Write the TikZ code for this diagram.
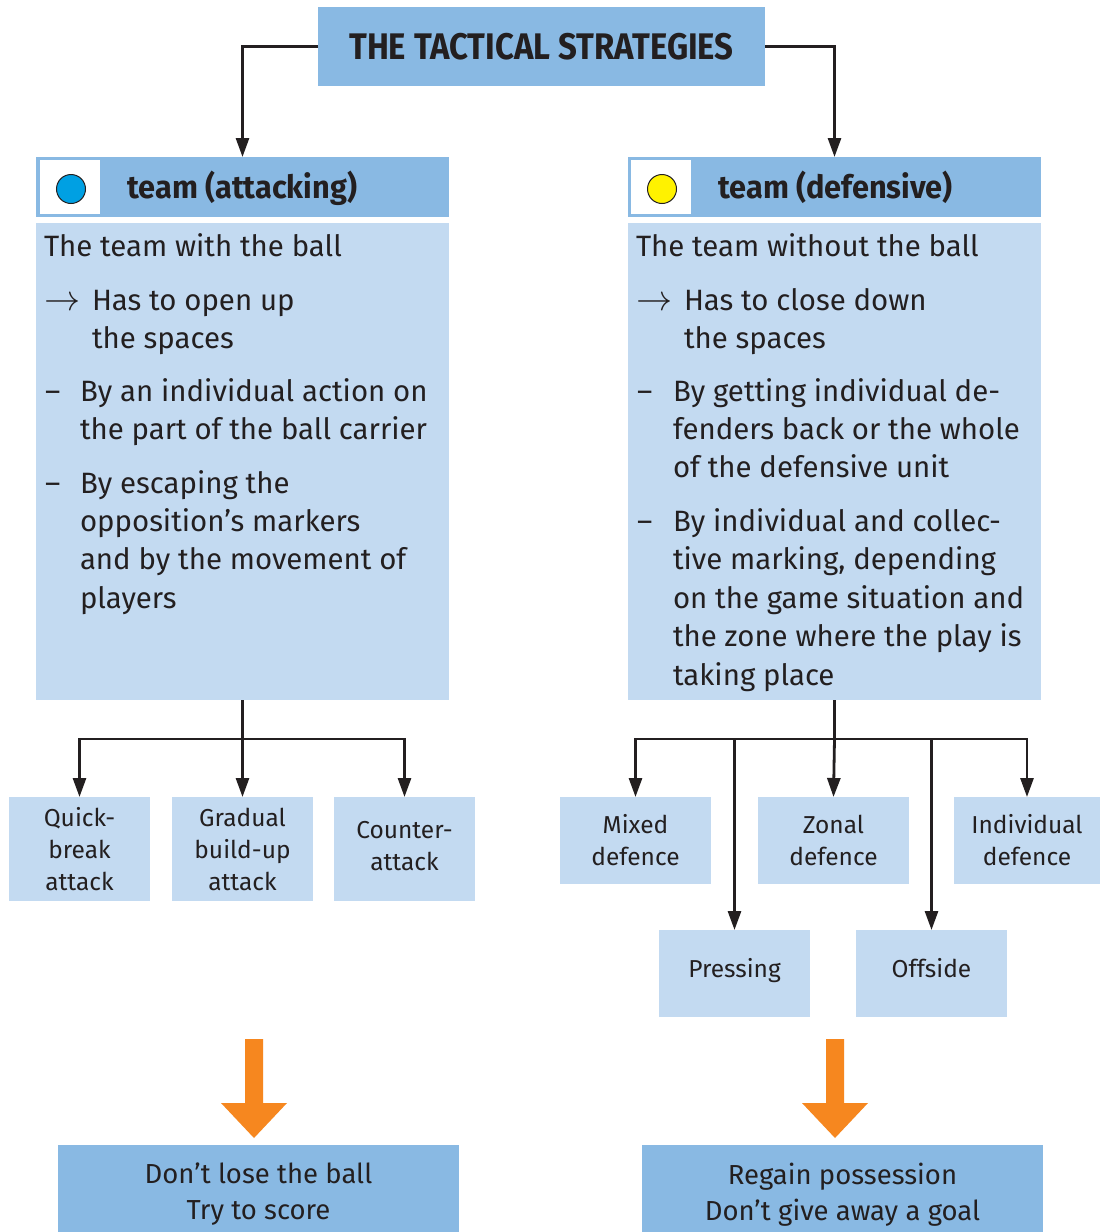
\documentclass[tikz,border=0pt]{standalone}
\usepackage{fontspec}
\setmainfont{Fira Sans}
\usetikzlibrary{arrows.meta}
\definecolor{midblue}{HTML}{89B9E3}
\definecolor{lightblue}{HTML}{C3DAF1}
\definecolor{ink}{HTML}{231F20}
\definecolor{arrorange}{HTML}{F6871F}
\definecolor{ballblue}{HTML}{00A0E3}
\definecolor{ballyellow}{HTML}{FFF200}
\begin{document}
\begin{tikzpicture}[x=1pt,y=-1pt,
  boxbase/.style={draw=none, inner sep=0pt, outer sep=0pt, anchor=north west, align=center, text=ink},
  midbox/.style={boxbase, fill=midblue},
  lightbox/.style={boxbase, fill=lightblue},
  bodytxt/.style={font=\fontsize{29.4}{38}\selectfont, text=ink, anchor=base west, inner sep=0pt, outer sep=0pt},
  smalltxt/.style={font=\fontsize{24.5}{32}\selectfont},
  lbltxt/.style={font=\fontsize{24.5}{32}\selectfont, text=ink, align=center, inner sep=0pt},
  restxt/.style={font=\fontsize{27.5}{36}\selectfont, text=ink, align=center, inner sep=0pt},
  headtxt/.style={font=\fontsize{32}{36}\selectfont\bfseries, text=ink, anchor=base west, inner sep=0pt},
  conn/.style={draw=ink, line width=2.8pt, -{Triangle[length=19pt,width=13pt]}},
  plain/.style={draw=ink, line width=2.8pt},
  ball/.style={circle, draw=ink, line width=1pt, minimum size=29pt, inner sep=0pt}
]
\useasboundingbox[fill=white] (0,0) rectangle (1100,1232);

% title
\node[midbox, minimum width=447pt, minimum height=79pt] (title) at (318,7)
  {\fontsize{37}{40}\selectfont\bfseries\scalebox{0.89}[1]{THE TACTICAL STRATEGIES}};

% headers
\node[midbox, minimum width=413pt, minimum height=60pt] (lhead) at (36,157) {};
\node[midbox, minimum width=413pt, minimum height=60pt] (rhead) at (628,157) {};
\node[fill=white, inner sep=0pt, minimum width=60pt, minimum height=54pt] (lsq) at (70,187) {};
\node[fill=white, inner sep=0pt, minimum width=60pt, minimum height=54pt] (rsq) at (661,187) {};
\node[ball, fill=ballblue] (lball) at (71,189) {};
\node[ball, fill=ballyellow] (rball) at (662,189) {};
\node[headtxt] (lht) at (127,198) {\scalebox{0.96}[1]{team (attacking)}};
\node[headtxt] (rht) at (718,198) {\scalebox{0.96}[1]{team (defensive)}};

% bodies
\node[lightbox, minimum width=413pt, minimum height=477pt] (lbody) at (36,223) {};
\node[lightbox, minimum width=413pt, minimum height=477pt] (rbody) at (628,223) {};

% left body text
\node[bodytxt] (la1) at (44,256) {The team with the ball};
\node[bodytxt] (la2a) at (44,310) {\scalebox{1.45}{$\rightarrow$}};
\node[bodytxt] (la2) at (92,310) {Has to open up};
\node[bodytxt] (la3) at (92,348) {the spaces};
\node[bodytxt] (la4a) at (45,401) {–};
\node[bodytxt] (la4) at (80,401) {By an individual action on};
\node[bodytxt] (la5) at (80,439) {the part of the ball carrier};
\node[bodytxt] (la6a) at (45,493) {–};
\node[bodytxt] (la6) at (80,493) {By escaping the};
\node[bodytxt] (la7) at (80,531) {opposition’s markers};
\node[bodytxt] (la8) at (80,569) {and by the movement of};
\node[bodytxt] (la9) at (80,608) {players};

% right body text
\node[bodytxt] (ra1) at (636,256) {The team without the ball};
\node[bodytxt] (ra2a) at (636,310) {\scalebox{1.45}{$\rightarrow$}};
\node[bodytxt] (ra2) at (684,310) {Has to close down};
\node[bodytxt] (ra3) at (684,348) {the spaces};
\node[bodytxt] (ra4a) at (637,401) {–};
\node[bodytxt] (ra4) at (673,401) {By getting individual de-};
\node[bodytxt] (ra5) at (673,439) {fenders back or the whole};
\node[bodytxt] (ra6) at (673,477) {of the defensive unit};
\node[bodytxt] (ra7a) at (637,531) {–};
\node[bodytxt] (ra7) at (673,531) {By individual and collec-};
\node[bodytxt] (ra8) at (673,569) {tive marking, depending};
\node[bodytxt] (ra9) at (673,608) {on the game situation and};
\node[bodytxt] (ra10) at (673,646) {the zone where the play is};
\node[bodytxt] (ra11) at (673,685) {taking place};

% left sub boxes
\node[lightbox, smalltxt, minimum width=141pt, minimum height=104pt] (qb) at (9,797) {Quick-\\break\\attack};
\node[lightbox, smalltxt, minimum width=141pt, minimum height=104pt] (gb) at (172,797) {Gradual\\build-up\\attack};
\node[lightbox, minimum width=141pt, minimum height=104pt] (ca) at (334,797) {};
\node[lbltxt] (cat) at ([yshift=3pt]ca.center) {Counter-\\attack};

% right sub boxes
\node[lightbox, smalltxt, minimum width=151pt, minimum height=87pt] (mix) at (560,797) {Mixed\\defence};
\node[lightbox, smalltxt, minimum width=151pt, minimum height=87pt] (zon) at (758,797) {Zonal\\defence};
\node[lightbox, smalltxt, minimum width=146pt, minimum height=87pt] (ind) at (954,797) {Individual\\defence};
\node[lightbox, minimum width=151pt, minimum height=87pt] (pre) at (659,930) {};
\node[lightbox, minimum width=151pt, minimum height=87pt] (off) at (856,930) {};
\node[lbltxt, anchor=base] (pret) at ([yshift=-3.5pt]pre.center) {Pressing};
\node[lbltxt, anchor=base] (offt) at ([yshift=-3.5pt]off.center) {Offside};

% result boxes
\node[midbox, minimum width=401pt, minimum height=87pt] (lres) at (58,1145) {};
\node[midbox, minimum width=401pt, minimum height=87pt] (rres) at (642,1145) {};
\node[restxt] (lrest) at ([yshift=-6pt]lres.center) {Don’t lose the ball\\Try to score};
\node[restxt] (rrest) at ([yshift=-6pt]rres.center) {Regain possession\\Don’t give away a goal};

% connectors top
\draw[conn] (title.west) -| (lhead.north);
\draw[conn] (title.east) -| (rhead.north);

% left tree
\draw[plain] (lbody.south) -- ++(0,39) coordinate (lj);
\draw[conn] (lj) -| (qb.north);
\draw[conn] (lj) -- (gb.north);
\draw[conn] (lj) -| (ca.north);

% right tree
\draw[plain] (rbody.south) -- ++(0,39) coordinate (rj);
\draw[conn] (rj) -| (mix.north);
\draw[conn] (rj) -- (zon.north);
\draw[conn] (rj) -| (ind.north);
\draw[conn] (rj) -| (pre.north);
\draw[conn] (rj) -| (off.north);

% orange arrows
\fill[arrorange] (245,1039) -- (263,1039) -- (263,1103) -- (287,1103) -- (254,1138) -- (221,1103) -- (245,1103) -- cycle;
\fill[arrorange] (826,1039) -- (844,1039) -- (844,1103) -- (868,1103) -- (835,1138) -- (802,1103) -- (826,1103) -- cycle;
\end{tikzpicture}
\end{document}
